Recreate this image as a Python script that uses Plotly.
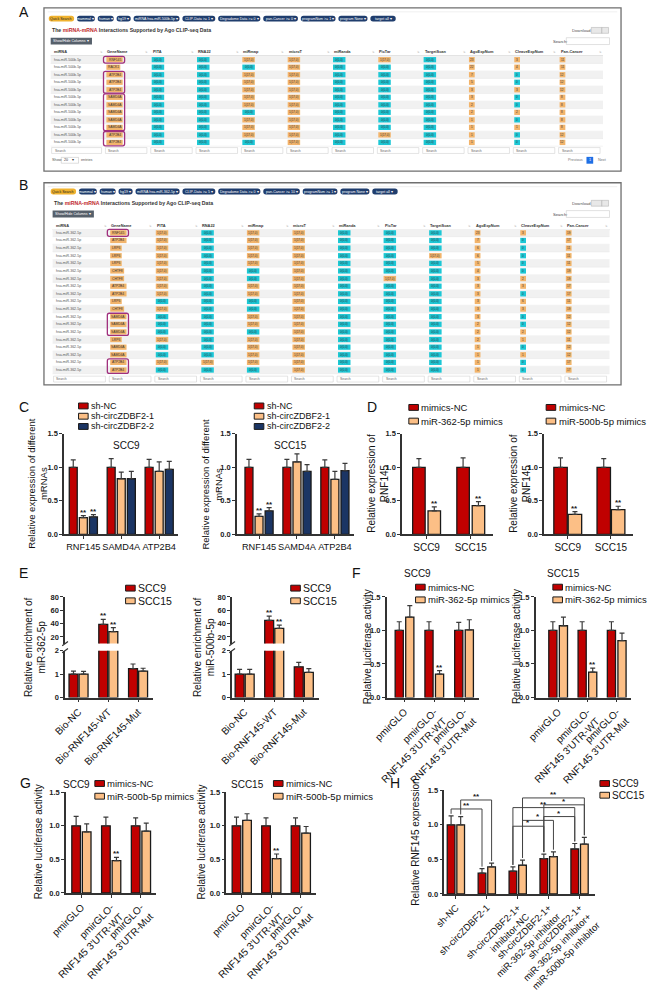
import plotly.graph_objects as go

W, H = 653, 992
FONT = "Liberation Sans, Arial, Helvetica, sans-serif"
RED, ORANGE, NAVY = "#c00000", "#fcbf86", "#1b3564"
AX = "#333333"
EDGE = "#1a1a1a"
CYAN_B, ORANGE_B, PURPLE, PILL = "#1cc7d5", "#f2b46b", "#a0307e", "#1f3d6d"

# ---------------- Table data (A: miR-500b-5p, B: miR-362-5p) ----------------
HEADERS = ["miRNA", "GeneName", "PITA", "RNA22", "miRmap", "microT", "miRanda",
           "PicTar", "TargetScan", "AgoExpNum", "CleaveExpNum", "Pan-Cancer"]

A_mirna = "hsa-miR-500b-5p"
A_pills = ["Quick Search", "mammal ▾", "human ▾", "hg19 ▾", "miRNA hsa-miR-500b-5p ▾",
           "CLIP-Data >= 1 ▾", "Degradome Data >= 0 ▾", "pan-Cancer >= 0 ▾",
           "programNum >= 1 ▾", "program None ▾", "target all ▾"]
A_genes = ["RNF145", "RACK1", "ATP2B4", "ATP2B4", "ATP2B4", "SAMD4A", "SAMD4A",
           "SAMD4A", "SAMD4A", "SAMD4A", "ATP2B4", "ATP2B4"]
A_pred = ["0011010", "0001000", "0011000", "0011000", "0011000", "0011000",
          "0011000", "0001000", "0011000", "0011000", "0011010", "0001000"]
A_ago = [23, 22, 7, 5, 3, 3, 2, 2, 1, 1, 1, 1]
A_cleave = [3, 4, 0, 0, 3, 0, 0, 2, 0, 1, 0, 0]
A_pan = [11, 11, 12, 12, 12, 8, 8, 8, 8, 8, 12, 12]
A_marked = [(0, 0), (2, 4), (5, 9), (10, 11)]

B_mirna = "hsa-miR-362-5p"
B_pills = ["Quick Search", "mammal ▾", "human ▾", "hg19 ▾", "miRNA hsa-miR-362-5p ▾",
           "CLIP-Data >= 5 ▾", "Degradome Data >= 0 ▾", "pan-Cancer >= 10 ▾",
           "programNum >= 1 ▾", "program None ▾", "target all ▾"]
B_genes = ["RNF145", "ATP2B4", "LRP6", "LRP6", "LRP6", "CHTF8", "CHTF8", "ATP2B4",
           "ATP2B4", "LRP6", "CHTF8", "SAMD4A", "SAMD4A", "SAMD4A", "LRP6", "SAMD4A",
           "SAMD4A", "ATP2B4", "ATP2B4"]
B_pred = ["1011000", "1011000", "1011000", "1011001", "1011000", "1001000", "1001010",
          "1011000", "1011000", "0001000", "1001000", "0011000", "0011000", "0001000",
          "1011000", "0011000", "0011000", "1111000", "0001000"]
B_ago = [23, 7, 6, 6, 5, 4, 3, 3, 3, 3, 3, 3, 2, 2, 2, 1, 1, 1, 1]
B_cleave = [3, 0, 0, 0, 0, 0, 2, 3, 0, 6, 3, 0, 0, 2, 1, 0, 1, 0, 0]
B_pan = [19, 17, 11, 11, 11, 19, 19, 17, 17, 11, 19, 12, 12, 12, 11, 12, 12, 17, 17]
B_marked = [(0, 0), (11, 13), (17, 18)]

# ---------------- Panel C ----------------
C_genes = ["RNF145", "SAMD4A", "ATP2B4"]
C_legend = ["sh-NC", "sh-circZDBF2-1", "sh-circZDBF2-2"]
C9_shNC = [1.00, 1.00, 1.00]
C9_shNC_err = [0.11, 0.13, 0.12]
C9_sh1 = [0.25, 0.83, 0.94]
C9_sh1_err = [0.03, 0.10, 0.14]
C9_sh2 = [0.26, 0.83, 0.97]
C9_sh2_err = [0.035, 0.11, 0.12]
C15_shNC = [1.00, 1.00, 1.00]
C15_shNC_err = [0.12, 0.12, 0.11]
C15_sh1 = [0.27, 1.08, 0.82]
C15_sh1_err = [0.035, 0.12, 0.12]
C15_sh2 = [0.35, 0.94, 0.95]
C15_sh2_err = [0.05, 0.10, 0.11]

# ---------------- Panel D ----------------
D_cells = ["SCC9", "SCC15"]
D362_legend = ["mimics-NC", "miR-362-5p mimics"]
D500_legend = ["mimics-NC", "miR-500b-5p mimics"]
D362_NC = [1.00, 1.00]
D362_NC_err = [0.13, 0.14]
D362_mim = [0.35, 0.43]
D362_mim_err = [0.06, 0.06]
D500_NC = [1.00, 1.00]
D500_NC_err = [0.14, 0.13]
D500_mim = [0.30, 0.37]
D500_mim_err = [0.04, 0.05]

# ---------------- Panel E ----------------
E_groups = ["Bio-NC", "Bio-RNF145-WT", "Bio-RNF145-Mut"]
E_legend = ["SCC9", "SCC15"]
E362_SCC9 = [1.00, 38.8, 1.23]
E362_SCC9_err = [0.13, 7.5, 0.20]
E362_SCC15 = [1.00, 27.9, 1.13]
E362_SCC15_err = [0.12, 6.0, 0.12]
E500_SCC9 = [1.00, 44.8, 1.31]
E500_SCC9_err = [0.20, 6.4, 0.19]
E500_SCC15 = [1.00, 32.9, 1.07]
E500_SCC15_err = [0.20, 4.9, 0.16]

# ---------------- Panels F, G ----------------
LUC_groups = ["pmirGLO", "pmirGLO-<br>RNF145 3'UTR-WT", "pmirGLO-<br>RNF145 3'UTR-Mut"]
F9_NC = [1.00, 1.00, 1.00]
F9_NC_err = [0.13, 0.13, 0.12]
F9_mim = [1.20, 0.35, 1.01]
F9_mim_err = [0.17, 0.05, 0.15]
F15_NC = [1.00, 1.00, 1.00]
F15_NC_err = [0.13, 0.13, 0.13]
F15_mim = [1.07, 0.38, 0.85]
F15_mim_err = [0.13, 0.06, 0.11]
G9_NC = [1.00, 1.00, 1.00]
G9_NC_err = [0.14, 0.13, 0.12]
G9_mim = [0.91, 0.48, 0.92]
G9_mim_err = [0.12, 0.05, 0.12]
G15_NC = [1.00, 1.00, 1.00]
G15_NC_err = [0.13, 0.12, 0.12]
G15_mim = [1.08, 0.51, 0.89]
G15_mim_err = [0.10, 0.07, 0.10]

# ---------------- Panel H ----------------
H_groups = ["sh-NC", "sh-circZDBF2-1", "sh-circZDBF2-1+<br>inhibitor-NC",
            "sh-circZDBF2-1+<br>miR-362-5p inhibitor",
            "sh-circZDBF2-1+<br>miR-362-5p inhibitor+<br>miR-500b-5p inhibitor"]
H_SCC9 = [1.00, 0.30, 0.33, 0.51, 0.65]
H_SCC9_err = [0.13, 0.065, 0.06, 0.065, 0.08]
H_SCC15 = [1.00, 0.39, 0.415, 0.54, 0.72]
H_SCC15_err = [0.12, 0.055, 0.075, 0.07, 0.10]
# (left group, left series, right group, right series, bracket height, label)
H_brackets = [(0, 1, 1, 1, 1.36, "**"), (0, 0, 1, 0, 1.23, "**"),
              (2, 1, 4, 1, 1.39, "**"), (3, 0, 4, 1, 1.29, "*"),
              (2, 0, 4, 0, 1.25, "**"), (3, 0, 4, 0, 1.12, "*"),
              (2, 1, 3, 1, 1.065, "*"), (2, 0, 3, 0, 0.98, "*")]

# =====================================================================
fig = go.Figure()
shapes, annots, axes = [], [], {}


def X(p):
    return p / W


def Y(p):
    return 1 - p / H


def rect(x0, y0, x1, y1, fill=None, line=None, lw=0.8):
    shapes.append(dict(type="rect", xref="paper", yref="paper", x0=X(x0), x1=X(x1),
                       y0=Y(y1), y1=Y(y0), fillcolor=fill or "rgba(0,0,0,0)",
                       line=dict(color=line or "rgba(0,0,0,0)", width=lw if line else 0)))


def rrect(x0, y0, x1, y1, r, fill=None, line=None, lw=1.0):
    P = lambda a, b: f"{X(a):.5f},{Y(b):.5f}"
    path = (f"M {P(x0 + r, y0)} L {P(x1 - r, y0)} Q {P(x1, y0)} {P(x1, y0 + r)} "
            f"L {P(x1, y1 - r)} Q {P(x1, y1)} {P(x1 - r, y1)} L {P(x0 + r, y1)} "
            f"Q {P(x0, y1)} {P(x0, y1 - r)} L {P(x0, y0 + r)} Q {P(x0, y0)} {P(x0 + r, y0)} Z")
    shapes.append(dict(type="path", xref="paper", yref="paper", path=path,
                       fillcolor=fill or "rgba(0,0,0,0)",
                       line=dict(color=line or "rgba(0,0,0,0)", width=lw if line else 0)))


def line(x0, y0, x1, y1, color=AX, lw=1.0):
    shapes.append(dict(type="line", xref="paper", yref="paper", x0=X(x0), y0=Y(y0),
                       x1=X(x1), y1=Y(y1), line=dict(color=color, width=lw)))


def text(x, y, s, size=4.0, color="#333", xa="left", ya="middle", angle=0):
    annots.append(dict(xref="paper", yref="paper", x=X(x), y=Y(y), text=s,
                       showarrow=False, xanchor=xa, yanchor=ya, textangle=angle,
                       borderpad=0, font=dict(size=size, color=color, family=FONT)))


# ---------------- tables ----------------
def draw_table(box, pill_y, title_y, btn_y, head_y, row0, rowh, search_y, foot_y,
               col0, colw0, colw, mirna, pills, genes, pred, ago, cleave, pan, marked):
    bx0, by0, bx1, by1 = box
    rect(bx0, by0, bx1, by1, fill="white", line="#6f6f6f", lw=1.3)
    line(bx0 + 4, by0 + 4, bx1 - 4, by0 + 4, color="#e6e6e6", lw=0.6)
    x = col0 - 2
    for i, lab in enumerate(pills):
        w = 1.95 * len(lab) + 3
        rrect(x, pill_y - 3, x + w, pill_y + 3, 2.8, fill="#f0b22e" if i == 0 else PILL)
        text(x + w / 2, pill_y, lab, size=3.6, color="#222" if i == 0 else "white", xa="center")
        x += w + 3
    text(col0, title_y, "<b>The <span style='color:#c0282d'>miRNA-mRNA</span> Interactions "
         "Supported by Ago CLIP-seq Data</b>", size=5.2, color="#333")
    text(bx1 - 52, title_y, "Download", size=4.2, color="#555")
    rect(bx1 - 31, title_y - 3, bx1 - 20, title_y + 3, fill="#e8e8e8", line="#aaa", lw=0.5)
    rect(bx1 - 20, title_y - 3, bx1 - 13, title_y + 3, fill="#e8e8e8", line="#aaa", lw=0.5)
    rect(col0, btn_y - 3.5, col0 + 43, btn_y + 3.5, fill="#56606b")
    text(col0 + 21.5, btn_y, "Show/Hide Columns ▾", size=3.6, color="white", xa="center")
    text(bx1 - 72, btn_y, "Search:", size=4.2, color="#444")
    rect(bx1 - 57, btn_y - 3.5, bx1 - 12, btn_y + 3.5, fill="white", line="#ccc", lw=0.6)

    lefts = [col0] + [col0 + colw0 + k * colw for k in range(11)]
    right = col0 + colw0 + 11 * colw
    widths = [colw0] + [colw] * 11
    for c, hname in enumerate(HEADERS):
        text(lefts[c] + 2, head_y, f"<b>{hname}</b>", size=3.9, color="#333")
        text(lefts[c] + widths[c] - 3, head_y, "⇅", size=3.4, color="#bbb", xa="center")
    line(col0, head_y + 4, right, head_y + 4, color="#cfcfcf", lw=0.8)

    for r, g in enumerate(genes):
        y = row0 + r * rowh
        if r % 2 == 0:
            rect(col0, y - rowh / 2, right, y + rowh / 2, fill="#f1f1f1")
        line(col0, y + rowh / 2, right, y + rowh / 2, color="#e3e3e3", lw=0.4)
        text(lefts[0] + 2, y, mirna, size=3.5, color="#555")
        gw = 2.5 * len(g) + 2
        rect(lefts[1] + 2, y - 2.7, lefts[1] + 2 + gw, y + 2.7, fill=ORANGE_B)
        text(lefts[1] + 2 + gw / 2, y, g, size=3.3, color="#333", xa="center")
        for j, f in enumerate(pred[r]):
            xl = lefts[2 + j]
            on = f == "1"
            rect(xl + 2, y - 2.7, xl + 15, y + 2.7, fill=ORANGE_B if on else CYAN_B)
            text(xl + 8.5, y, "1(17,0)" if on else "0(0,0)", size=3.0, color="#333", xa="center")
        for j, v in enumerate([ago[r], cleave[r], pan[r]]):
            xl = lefts[9 + j]
            rect(xl + 2, y - 2.7, xl + 8, y + 2.7, fill=ORANGE_B if v > 0 else CYAN_B)
            text(xl + 5, y, str(v), size=3.0, color="#333", xa="center")
    for r0, r1 in marked:
        rrect(lefts[1] - 1, row0 + r0 * rowh - rowh / 2 + 0.4, lefts[1] + 21,
              row0 + r1 * rowh + rowh / 2 - 0.4, 2.0, line=PURPLE, lw=1.3)
    for c in range(12):
        rect(lefts[c] + 1, search_y - 3, lefts[c] + widths[c] - 3, search_y + 3,
             fill="white", line="#c8c8c8", lw=0.5)
        text(lefts[c] + 3, search_y, "Search", size=3.4, color="#666")
    if foot_y is not None:
        text(col0, foot_y, "Show", size=3.8, color="#555")
        rect(col0 + 11, foot_y - 3, col0 + 29, foot_y + 3, fill="white", line="#bbb", lw=0.5)
        text(col0 + 13, foot_y, "20    ▾", size=3.6, color="#333")
        text(col0 + 31, foot_y, "entries", size=3.8, color="#555")
        text(bx1 - 56, foot_y, "Previous", size=3.8, color="#777")
        rect(bx1 - 36, foot_y - 3.5, bx1 - 29, foot_y + 3.5, fill="#1f6fe5")
        text(bx1 - 32.5, foot_y, "1", size=3.8, color="white", xa="center")
        text(bx1 - 25, foot_y, "Next", size=3.8, color="#777")


draw_table((26, 4, 627, 171), 15, 27, 38, 49, 57, 7.7, 150, 160, 33, 56, 47.2,
           A_mirna, A_pills, A_genes, A_pred, A_ago, A_cleave, A_pan, A_marked)
draw_table((26, 183, 627, 390), 192, 204, 215, 227, 234.3, 7.8, 384, None, 35, 58, 47.45,
           B_mirna, B_pills, B_genes, B_pred, B_ago, B_cleave, B_pan, B_marked)

# ---------------- bar charts ----------------
K = [0]


def nk():
    K[0] += 1
    return K[0]


def an(k, L):
    return f"{L}axis" if k == 1 else f"{L}axis{k}"


def rf(k, L):
    return L if k == 1 else f"{L}{k}"


def yaxis(k, xk, ytop, ybot, yr, tv, fmt):
    axes[an(k, "y")] = dict(domain=[Y(ybot), Y(ytop)], range=yr, anchor=rf(xk, "x"),
                            showline=True, linecolor=AX, linewidth=1.5, ticks="outside",
                            ticklen=3, tickwidth=1.2, tickcolor=AX, tickvals=tv,
                            ticktext=[f"<b>{format(t, fmt)}</b>" for t in tv],
                            tickfont=dict(size=7.5, family=FONT, color="#222"),
                            showgrid=False, zeroline=False, fixedrange=True)


def chart(x0, c0, s, n, ytop, ybot, cats, angle, series, stars, yr=(0, 1.5),
          tv=(0, 0.5, 1.0, 1.5), broken=None, tsize=10, fmt=".1f"):
    k = nk()
    x1 = c0 + (n - 0.5) * s
    axes[an(k, "x")] = dict(domain=[X(x0), X(x1)], range=[-(c0 - x0) / s, n - 0.5],
                            anchor=rf(k, "y"), showline=True, linecolor=AX, linewidth=1.5,
                            ticks="outside", ticklen=3, tickwidth=1.2, tickcolor=AX,
                            tickvals=list(range(n)), ticktext=cats, tickangle=angle,
                            tickfont=dict(size=tsize, family=FONT, color="#111"),
                            showgrid=False, zeroline=False, fixedrange=True)
    ylist = []
    if broken is None:
        yaxis(k, k, ytop, ybot, list(yr), list(tv), fmt)
        ylist.append(k)
    else:
        lo_top, up_bot, up_range, up_tv = broken
        yaxis(k, k, lo_top, ybot, list(yr), list(tv), fmt)
        ku = nk()
        yaxis(ku, k, ytop, up_bot, list(up_range), list(up_tv), fmt)
        ylist += [k, ku]
        for yy in (lo_top, up_bot):
            line(x0 - 3, yy + 2.2, x0 + 3, yy - 2.2, color=AX, lw=1.2)
    for yk in ylist:
        for vals, errs, col, cpx, wpx in series:
            wu = wpx / s
            fig.add_trace(go.Bar(
                x=list(range(n)), y=vals, width=wu, offset=cpx / s - wu / 2,
                marker=dict(color=col, line=dict(color=EDGE, width=1.3)),
                error_y=dict(type="data", array=errs, arrayminus=[0] * n, symmetric=False,
                             color="#3a3a3a", thickness=1.2, width=2.5),
                xaxis=rf(k, "x"), yaxis=rf(yk, "y"), showlegend=False, hoverinfo="skip"))
    for si, gi in stars:
        vals, errs, col, cpx, wpx = series[si]
        yk = ylist[-1] if (broken is not None and vals[gi] > yr[1]) else ylist[0]
        annots.append(dict(xref=rf(k, "x"), yref=rf(yk, "y"), x=gi + cpx / s,
                           y=vals[gi] + errs[gi], text="<b>**</b>", showarrow=False,
                           xanchor="center", yanchor="bottom", yshift=-3,
                           font=dict(size=8, family=FONT, color="#222")))
    return k


def legend(x, rows, labels, colors, size=9.5):
    for yy, lab, col in zip(rows, labels, colors):
        rect(x, yy - 3, x + 10, yy + 3, fill=col, line=EDGE, lw=1.0)
        text(x + 12, yy, lab, size=size, color="#111")


def ytitle(x, y, s, size=10):
    text(x, y, s, size=size, color="#111", xa="center", ya="middle", angle=-90)


# C
chart(47, 67, 39.5, 3, 440, 543, C_genes, 0,
      [(C9_shNC, C9_shNC_err, RED, -10.5, 8.3), (C9_sh1, C9_sh1_err, ORANGE, 0, 8.3),
       (C9_sh2, C9_sh2_err, NAVY, 10.5, 8.3)], [(1, 0), (2, 0)], tsize=9.2)
chart(227, 250, 39.5, 3, 440, 543, C_genes, 0,
      [(C15_shNC, C15_shNC_err, RED, -10.5, 8.3), (C15_sh1, C15_sh1_err, ORANGE, 0, 8.3),
       (C15_sh2, C15_sh2_err, NAVY, 10.5, 8.3)], [(1, 0), (2, 0)], tsize=9.2)
legend(62, [411.5, 422, 432.5], C_legend, [RED, ORANGE, NAVY], size=9)
legend(245, [411.5, 422, 432.5], C_legend, [RED, ORANGE, NAVY], size=9)
text(112, 452, "SCC9", size=10, color="#111", xa="center")
text(283, 452, "SCC15", size=10, color="#111", xa="center")
ytitle(19, 491, "Relative expression of different<br>mRNAs", size=9.5)
ytitle(201, 491, "Relative expression of different<br>mRNAs", size=9.5)

# D
chart(399, 424.5, 46, 2, 440, 543, D_cells, 0,
      [(D362_NC, D362_NC_err, RED, -8, 13), (D362_mim, D362_mim_err, ORANGE, 8, 13)],
      [(1, 0), (1, 1)])
chart(547, 571.5, 45, 2, 440, 543, D_cells, 0,
      [(D500_NC, D500_NC_err, RED, -7.5, 14), (D500_mim, D500_mim_err, ORANGE, 7.5, 14)],
      [(1, 0), (1, 1)])
legend(406, [413, 427], D362_legend, [RED, ORANGE])
legend(549, [413, 427], D500_legend, [RED, ORANGE])
ytitle(374, 491, "Relative expression of<br>RNF145")
ytitle(521, 491, "Relative expression of<br>RNF145")

# E (broken y axis)
chart(48, 62, 31, 3, 607, 710, E_groups, -45,
      [(E362_SCC9, E362_SCC9_err, RED, -5.25, 9.3), (E362_SCC15, E362_SCC15_err, ORANGE, 5.25, 9.3)],
      [(0, 1), (1, 1)], yr=(0, 2), tv=(0, 1, 2), broken=(662, 654.8, (10, 80), (20, 40, 60, 80)),
      fmt="d")
chart(222, 235, 30.8, 3, 607, 710, E_groups, -45,
      [(E500_SCC9, E500_SCC9_err, RED, -5.25, 9.3), (E500_SCC15, E500_SCC15_err, ORANGE, 5.25, 9.3)],
      [(0, 1), (1, 1)], yr=(0, 2), tv=(0, 1, 2), broken=(662, 654.8, (10, 80), (20, 40, 60, 80)),
      fmt="d")
legend(111, [598, 611], E_legend, [RED, ORANGE], size=10.5)
legend(283, [598, 611], E_legend, [RED, ORANGE], size=10.5)
ytitle(16, 658, "Relative enrichment of<br>miR-362-5p")
ytitle(192, 658, "Relative enrichment of<br>miR-500b-5p")

# F
chart(383, 401.5, 31, 3, 607, 710, LUC_groups, -45,
      [(F9_NC, F9_NC_err, RED, -5.5, 8.5), (F9_mim, F9_mim_err, ORANGE, 5.5, 8.5)], [(1, 1)])
chart(538, 561.5, 30.5, 3, 607, 710, LUC_groups, -45,
      [(F15_NC, F15_NC_err, RED, -5.5, 8.5), (F15_mim, F15_mim_err, ORANGE, 5.5, 8.5)], [(1, 1)])
legend(413, [597, 610], D362_legend, [RED, ORANGE])
legend(556, [597, 610], D362_legend, [RED, ORANGE])
text(415, 583, "SCC9", size=10, color="#111", xa="center")
text(567, 583, "SCC15", size=10, color="#111", xa="center")
ytitle(363, 658, "Relative luciferase activity")
ytitle(518, 658, "Relative luciferase activity")

# G
chart(49, 65, 31, 3, 807, 910, LUC_groups, -45,
      [(G9_NC, G9_NC_err, RED, -5.5, 9), (G9_mim, G9_mim_err, ORANGE, 5.5, 9)], [(1, 1)])
chart(216, 232, 30.75, 3, 807, 910, LUC_groups, -45,
      [(G15_NC, G15_NC_err, RED, -5.5, 9), (G15_mim, G15_mim_err, ORANGE, 5.5, 9)], [(1, 1)])
legend(79, [798, 811], D500_legend, [RED, ORANGE])
legend(265, [798, 811], D500_legend, [RED, ORANGE])
text(60, 799, "SCC9", size=10, color="#111", xa="center")
text(238, 799, "SCC15", size=10, color="#111", xa="center")
ytitle(20, 858, "Relative luciferase activity")
ytitle(190, 858, "Relative luciferase activity")

# H
H_series = [(H_SCC9, H_SCC9_err, RED, -5, 8), (H_SCC15, H_SCC15_err, ORANGE, 5, 8)]
hk = chart(443, 455, 32.2, 5, 805, 911, H_groups, -45, H_series, [], tsize=9.5)
for gl, sl, gr, sr, top, lab in H_brackets:
    xl = gl + H_series[sl][3] / 32.2
    xr = gr + H_series[sr][3] / 32.2
    bl = H_series[sl][0][gl] + H_series[sl][1][gl] + 0.03
    br = H_series[sr][0][gr] + H_series[sr][1][gr] + 0.03
    shapes.append(dict(type="path", xref=rf(hk, "x"), yref=rf(hk, "y"),
                       path=f"M {xl},{bl} L {xl},{top} L {xr},{top} L {xr},{br}",
                       line=dict(color="#444", width=1.0)))
    annots.append(dict(xref=rf(hk, "x"), yref=rf(hk, "y"), x=(xl + xr) / 2, y=top,
                       text=f"<b>{lab}</b>", showarrow=False, xanchor="center",
                       yanchor="bottom", yshift=-3, font=dict(size=8, family=FONT, color="#222")))
legend(605, [798, 810], E_legend, [RED, ORANGE], size=10)
ytitle(413, 858, "Relative RNF145 expression")

# panel letters
for lab, x, y in [("A", 5, 8), ("B", 5, 185), ("C", 5, 413), ("D", 368, 413),
                  ("E", 5, 583), ("F", 352, 583), ("G", 7, 798), ("H", 392, 798)]:
    text(x, y, lab, size=14, color="#111", xa="center")

fig.update_layout(width=W, height=H, margin=dict(l=0, r=0, t=0, b=0),
                  paper_bgcolor="white", plot_bgcolor="white", barmode="overlay",
                  showlegend=False, shapes=shapes, annotations=annots,
                  font=dict(family=FONT), **axes)
fig.write_html("out.html", config={"displayModeBar": False},
               post_script="document.body.style.margin='0';")
